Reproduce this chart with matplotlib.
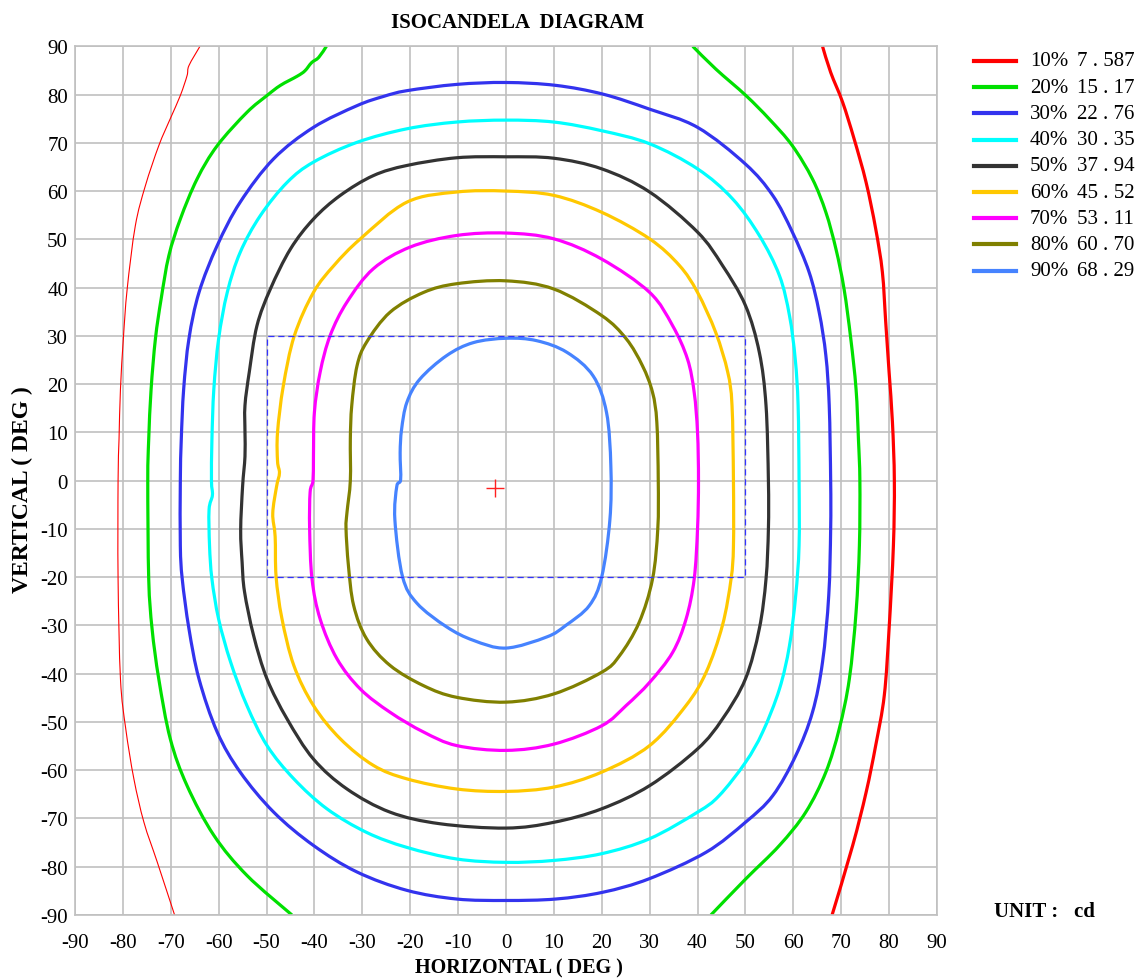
import numpy as np
import matplotlib
matplotlib.use("Agg")
import matplotlib.pyplot as plt
from matplotlib.lines import Line2D
from matplotlib.path import Path
from matplotlib.patches import PathPatch

# iso-levels (percent of max) and candela values
levels = [10, 20, 30, 40, 50, 60, 70, 80, 90]
level_values = ["7 . 587", "15 . 17", "22 . 76", "30 . 35", "37 . 94",
                "45 . 52", "53 . 11", "60 . 70", "68 . 29"]
level_colors = ["#ff0000", "#00e000", "#3333ee", "#00ffff", "#333333",
                "#ffc800", "#ff00ff", "#808000", "#4683ff"]

# contour traces (horizontal deg, vertical deg), each side listed top -> bottom
c10_left = [(-63.9, 90), (-66.2, 86.0), (-66.6, 83.9), (-68.0, 79.8), (-70.1, 75.0),
            (-72.5, 69.4), (-75.3, 61.1), (-77.4, 52.8), (-79.1, 39.7), (-79.9, 29.4),
            (-80.5, 19.0), (-80.8, 8.6), (-81.0, 0), (-81.0, -20.4), (-80.5, -41.1),
            (-79.4, -51.4), (-77.7, -61.8), (-75.6, -70.8), (-72.8, -79.1), (-69.2, -90)]
c10_right = [(66.1, 90), (67.8, 84.6), (70.3, 78.4), (72.7, 70.8), (75.2, 61.8),
             (77.2, 52.2), (78.6, 43.2), (79.3, 32.8), (80.0, 22.5), (80.7, 12.1),
             (81.1, 0), (80.9, -13.5), (80.0, -30.7), (79.0, -44.5), (77.2, -54.9),
             (75.2, -64.6), (72.4, -75.6), (68.1, -90)]
c20_left = [(-37.5, 90), (-39.1, 87.7), (-40.6, 86.6), (-42.0, 84.9), (-43.6, 83.8),
            (-47.1, 81.9), (-49.9, 79.8), (-54.1, 76.3), (-60.3, 69.4), (-64.5, 62.5),
            (-68.0, 54.2), (-70.4, 46.6), (-72.0, 37.7), (-73.2, 29.4), (-74.1, 19.0),
            (-74.6, 8.6), (-74.8, 0), (-74.6, -20.4), (-73.9, -30.7), (-72.5, -41.1),
            (-70.1, -53.5), (-66.6, -63.2), (-61.0, -73.5), (-54.1, -81.8), (-44.7, -90)]
c20_right = [(39.0, 90), (43.8, 85.3), (50.1, 79.8), (55.0, 74.9), (59.8, 69.4),
             (64.0, 62.5), (66.8, 55.6), (68.9, 48.0), (70.6, 39.7), (72.0, 29.4),
             (73.1, 19.0), (73.6, 8.6), (73.9, 0), (73.8, -13.5), (73.1, -27.3),
             (71.7, -41.1), (69.6, -51.4), (66.8, -60.4), (62.6, -68.7), (57.1, -75.6),
             (50.1, -82.5), (42.8, -90)]
c30_left = [(0, 82.5), (-10.3, 82.1), (-20.7, 80.8), (-25.6, 79.6), (-31.1, 77.7),
            (-40.2, 73.2), (-48.5, 66.7), (-55.5, 57.7), (-60.3, 48.7), (-64.1, 39.0),
            (-66.2, 29.4), (-67.3, 19.0), (-67.8, 8.6), (-68.0, 0), (-68.0, -13.5),
            (-67.6, -20.4), (-66.2, -30.7), (-64.1, -41.1), (-60.3, -52.1), (-55.5, -60.4),
            (-48.5, -68.7), (-40.2, -75.6), (-31.1, -81.1), (-20.7, -84.9), (-10.3, -86.7),
            (0, -87.0)]
c30_right = [(0, 82.5), (10.4, 81.9), (20.2, 80.1), (29.9, 77.0), (40.0, 73.2),
             (50.0, 65.6), (55.7, 59.1), (59.8, 51.5), (63.3, 43.2), (65.4, 34.9),
             (66.8, 25.9), (67.5, 15.6), (67.8, 0), (67.8, -10.0), (67.4, -23.8),
             (66.1, -37.6), (64.0, -48.0), (60.5, -57.0), (55.7, -65.3), (50.0, -70.8),
             (41.8, -77.0), (29.9, -82.5), (20.2, -85.3), (10.4, -86.7), (0, -87.0)]
c40_left = [(0, 74.7), (-10.3, 74.3), (-20.7, 72.9), (-31.1, 70.1), (-40.2, 66.0),
            (-45.7, 61.8), (-51.3, 54.9), (-55.5, 47.3), (-58.2, 39.0), (-60.0, 29.4),
            (-61.0, 19.0), (-61.4, 8.6), (-61.5, 0), (-61.3, -3.0), (-62.0, -6.0),
            (-61.9, -13.5), (-61.4, -20.4), (-60.0, -28.7), (-57.5, -37.6), (-54.1, -46.6),
            (-49.9, -54.9), (-44.3, -61.8), (-37.4, -68.0), (-29.1, -72.9), (-20.7, -76.0),
            (-10.3, -78.4), (0, -79.1)]
c40_right = [(0, 74.7), (10.0, 74.3), (20.0, 72.5), (30.0, 69.8), (40.0, 64.6),
             (47.3, 58.4), (52.9, 50.8), (57.1, 42.5), (59.2, 34.2), (60.4, 25.2),
             (61.0, 15.6), (61.2, 0), (61.2, -13.5), (60.5, -23.8), (59.2, -34.2),
             (57.1, -43.2), (53.6, -52.1), (50.0, -58.4), (44.5, -65.3), (40.0, -68.7),
             (30.0, -74.2), (20.0, -77.3), (10.0, -78.7), (0, -79.1)]
c50_left = [(0, 67.1), (-10.3, 66.9), (-20.7, 65.3), (-27.7, 63.2), (-34.6, 59.1),
            (-40.2, 54.2), (-45.0, 48.0), (-49.2, 39.7), (-52.0, 32.1), (-53.6, 22.5),
            (-54.5, 15.6), (-54.5, 10.0), (-54.5, 5.0), (-55.0, -1.2), (-55.4, -10.2),
            (-55.1, -16.9), (-54.6, -23.0), (-52.7, -32.1), (-49.9, -41.1), (-45.7, -49.4),
            (-40.2, -57.7), (-33.2, -63.9), (-24.2, -68.7), (-13.8, -71.1), (0, -72.0)]
c50_right = [(0, 67.1), (10.0, 66.8), (20.0, 64.6), (30.0, 59.8), (40.0, 51.5),
             (45.2, 44.6), (50.0, 36.3), (52.9, 26.6), (54.3, 15.6), (54.8, 0),
             (54.8, -10.0), (54.3, -20.4), (52.9, -30.7), (50.0, -41.1), (45.2, -49.4),
             (40.0, -55.6), (30.0, -63.2), (20.0, -68.0), (10.0, -70.8), (0, -72.0)]
c60_left = [(0, 60.0), (-10.3, 59.8), (-20.7, 57.7), (-30.4, 50.1), (-35.9, 44.6),
            (-40.2, 39.0), (-44.2, 30.0), (-46.5, 19.6), (-47.7, 10.0), (-47.7, 4.0),
            (-47.3, 1.6), (-47.9, -1.2), (-48.7, -6.8), (-48.2, -11.6), (-48.0, -19.9),
            (-46.8, -28.5), (-44.3, -38.3), (-40.2, -46.6), (-34.6, -53.5), (-27.7, -59.0),
            (-20.7, -61.8), (-10.3, -63.9), (0, -64.4)]
c60_right = [(0, 60.0), (10.0, 59.1), (20.0, 55.6), (30.0, 50.1), (36.2, 44.6),
             (40.0, 39.0), (43.8, 30.7), (46.3, 22.5), (47.2, 15.6), (47.5, 0),
             (47.5, -13.5), (47.0, -20.4), (45.2, -30.0), (41.8, -39.7), (37.6, -46.6),
             (30.0, -54.9), (20.0, -60.4), (10.0, -63.5), (0, -64.4)]
c70_left = [(0, 51.3), (-10.3, 50.8), (-20.0, 48.4), (-27.7, 43.9), (-33.2, 37.0),
            (-36.7, 30.1), (-38.8, 22.5), (-40.0, 14.2), (-40.2, 5.2), (-40.3, 0),
            (-40.9, -2.4), (-41.0, -10.0), (-40.5, -20.4), (-38.8, -28.7), (-35.3, -36.9),
            (-30.4, -43.2), (-24.2, -48.0), (-17.2, -52.1), (-10.3, -54.9), (0, -55.9)]
c70_right = [(0, 51.3), (10.0, 50.1), (20.0, 45.9), (30.0, 39.0), (34.8, 32.1),
             (37.9, 25.2), (39.3, 18.3), (40.0, 10.0), (40.2, 0), (40.0, -10.0),
             (39.3, -20.4), (37.6, -28.7), (34.8, -35.6), (30.0, -41.8), (25.1, -46.6),
             (20.0, -50.8), (10.0, -54.6), (0, -55.9)]
c80_left = [(0, 41.4), (-10.3, 40.8), (-17.2, 39.0), (-24.2, 34.9), (-29.1, 28.7),
            (-31.1, 23.8), (-32.2, 15.6), (-32.5, 8.6), (-32.5, 0), (-33.2, -6.6),
            (-33.4, -10.0), (-32.9, -17.6), (-31.8, -25.9), (-29.1, -32.8), (-24.2, -38.3),
            (-17.2, -42.5), (-10.3, -44.9), (0, -45.9)]
c80_right = [(0, 41.4), (10.0, 39.7), (20.0, 34.2), (25.1, 29.4), (28.5, 23.8),
             (30.6, 18.3), (31.5, 12.1), (31.8, 0), (31.7, -10.0), (30.6, -20.4),
             (27.8, -29.4), (23.7, -36.3), (20.0, -39.7), (10.0, -44.2), (0, -45.9)]
c90_left = [(0.1, 29.5), (-6.8, 28.6), (-12.4, 25.9), (-18.0, 21.0), (-20.7, 16.2),
            (-21.8, 10.6), (-22.1, 5.8), (-22.0, 0.2), (-22.8, -1.2), (-23.2, -8.1),
            (-21.6, -19.9), (-18.6, -25.4), (-12.4, -30.3), (-6.8, -33.1), (0, -34.7)]
c90_right = [(0.1, 29.5), (6.4, 29.0), (12.7, 26.6), (18.2, 21.7), (21.0, 14.1),
             (21.9, 3.0), (21.7, -8.1), (20.0, -19.9), (17.4, -25.9), (12.5, -30.0),
             (8.5, -32.4), (0, -34.7)]

# measuring window and beam centre
window_h = [-50, 50]
window_v = [-20, 30]
centre = (-2.3, -1.6)

ticks = list(range(-90, 91, 10))


def smooth_path(pts, closed=False):
    # Catmull-Rom through the traced points, drawn as cubic bezier segments
    P = np.asarray(pts, dtype=float)
    n = len(P)
    verts = [P[0]]
    codes = [Path.MOVETO]
    for i in range(n - 1):
        p1, p2 = P[i], P[i + 1]
        if i > 0:
            p0 = P[i - 1]
        else:
            p0 = P[-2] if closed else P[i]
        if i + 2 < n:
            p3 = P[i + 2]
        else:
            p3 = P[1] if closed else P[i + 1]
        verts += [p1 + (p2 - p0) / 6.0, p2 - (p3 - p1) / 6.0, p2]
        codes += [Path.CURVE4] * 3
    return Path(verts, codes)


def draw_curve(ax, pts, color, lw, closed=False):
    patch = PathPatch(smooth_path(pts, closed), fill=False, edgecolor=color,
                      linewidth=lw, joinstyle="round", capstyle="butt")
    ax.add_patch(patch)


serif = ["Liberation Serif", "DejaVu Serif"]
plt.rcParams["font.family"] = serif
plt.rcParams["axes.unicode_minus"] = False

fig = plt.figure(figsize=(11.36, 9.79), dpi=100)
ax = fig.add_axes([0.0660, 0.0644, 0.7588, 0.8873])

ax.set_xlim(-90, 90)
ax.set_ylim(-90, 90)
ax.set_xticks(ticks)
ax.set_yticks(ticks)
ax.grid(True, color="#c0c0c0", linewidth=1.2)
ax.set_axisbelow(True)
for s in ax.spines.values():
    s.set_color("#c0c0c0")
    s.set_linewidth(1.2)
ax.tick_params(length=0, labelsize=15)
ax.tick_params(axis="x", pad=13)
ax.tick_params(axis="y", pad=5)

# window rectangle
rx = [window_h[0], window_h[1], window_h[1], window_h[0], window_h[0]]
ry = [window_v[0], window_v[0], window_v[1], window_v[1], window_v[0]]
ax.plot(rx, ry, color="#3333ff", linewidth=0.9, dashes=(5, 3))

lw = 2.3

# open contours (10%, 20%)
draw_curve(ax, c10_left, level_colors[0], 0.8)
draw_curve(ax, c10_right, level_colors[0], lw)
draw_curve(ax, c20_left, level_colors[1], lw)
draw_curve(ax, c20_right, level_colors[1], lw)

# closed contours: down the left side, back up the right side
closed = [(c30_left, c30_right), (c40_left, c40_right), (c50_left, c50_right),
          (c60_left, c60_right), (c70_left, c70_right), (c80_left, c80_right),
          (c90_left, c90_right)]
for i, (left, right) in enumerate(closed):
    loop = left + right[::-1][1:]
    draw_curve(ax, loop, level_colors[i + 2], lw, closed=True)

ax.plot([centre[0]], [centre[1]], marker="+", color="#ff2020",
        markersize=13, markeredgewidth=1.0)

fig.text(0.456, 0.977, "ISOCANDELA  DIAGRAM", ha="center", va="center",
         fontsize=15, fontweight="bold")
fig.text(0.457, 0.011, "HORIZONTAL ( DEG )", ha="center", va="center",
         fontsize=14.5, fontweight="bold")
fig.text(0.020, 0.4995, "VERTICAL ( DEG )", ha="center", va="center",
         rotation=90, fontsize=17, fontweight="bold")
fig.text(0.875, 0.068, "UNIT :   cd", ha="left", va="center",
         fontsize=15, fontweight="bold")

# legend drawn by hand
W, H = 1136.0, 979.0
for i, (lev, val, col) in enumerate(zip(levels, level_values, level_colors)):
    yp = 62 + i * 26.2
    yf = 1 - yp / H
    fig.add_artist(Line2D([974 / W, 1016 / W], [yf, yf], color=col, linewidth=3,
                          transform=fig.transFigure))
    fig.text(1030 / W, yf, f"{lev}%", ha="left", va="center", fontsize=15)
    fig.text(1077 / W, yf, val, ha="left", va="center", fontsize=15)

fig.savefig("out.png", dpi=100)
